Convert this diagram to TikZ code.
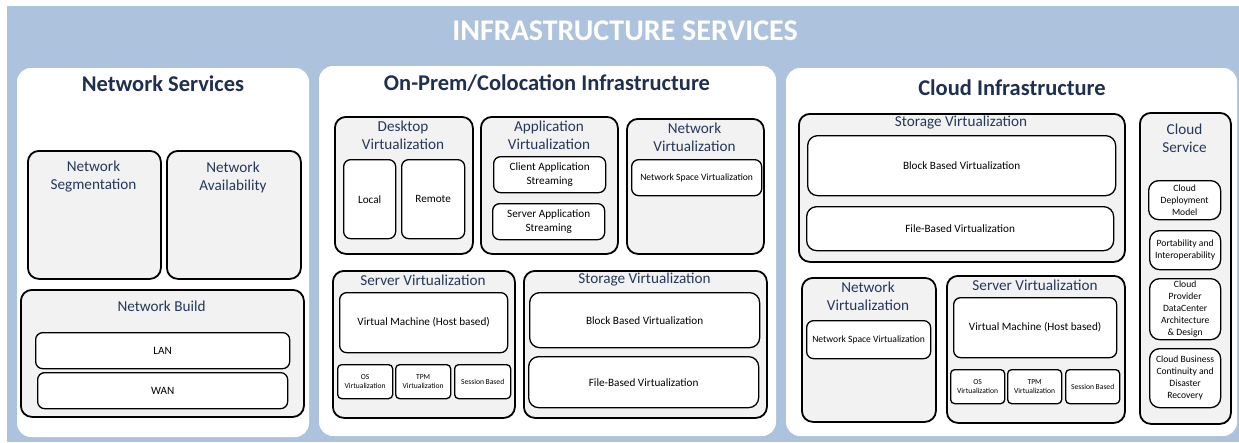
\documentclass[tikz,border=0pt]{standalone}
\usepackage{fontspec}
\setmainfont{Carlito}
\usetikzlibrary{positioning}

\definecolor{bgblue}{HTML}{ADC2DC}
\definecolor{boxgray}{HTML}{F2F2F2}
\definecolor{navy}{HTML}{1F2F4F}
\definecolor{slate}{HTML}{25385A}

\newcommand{\maintitlefont}{\fontsize{30}{34}\selectfont\bfseries}
\newcommand{\paneltitlefont}{\fontsize{22.5}{26}\selectfont\bfseries}
\newcommand{\grouptitlefont}{\fontsize{15.2}{18}\selectfont}
\newcommand{\itemfont}{\fontsize{11.2}{14}\selectfont}
\newcommand{\smallitemfont}{\fontsize{9.6}{12}\selectfont}
\newcommand{\tinyitemfont}{\fontsize{7.6}{9.5}\selectfont}

\tikzset{panel/.style = {fill = white, rounded corners = 14pt}}
\tikzset{paneltitle/.style = {text = navy, font = \paneltitlefont}}
\tikzset{group/.style = {draw, fill = boxgray, line width = 1.8pt, rounded corners = 11pt,
    anchor = north west, inner sep = 0pt}}
\tikzset{grouptitle/.style = {text = slate, font = \grouptitlefont, align = center, inner sep = 0pt}}
\tikzset{item/.style = {draw, fill = white, line width = 1.3pt, rounded corners = 7pt,
    anchor = north west, inner sep = 1pt, align = center, font = \itemfont}}

\begin{document}
\begin{tikzpicture}[x = 1pt, y = -1pt]
				\useasboundingbox (0, 0) rectangle (1239, 442);
				\fill[white] (0, 0) rectangle (1239, 442);
				\fill[bgblue] (7, 6) rectangle (1239, 442);
				\node[text = white, font = \maintitlefont] (title) at (625, 31) {INFRASTRUCTURE SERVICES};

				% network services
				\fill[panel] (17, 68) rectangle (309, 437);
				\node[paneltitle] (nstitle) at (163, 84) {Network Services};
				\node[group, minimum width = 133, minimum height = 128] (seg) at (27, 150) {};
				\node[grouptitle] at (93.5, 177) {Network\\Segmentation};
				\node[group, minimum width = 134, minimum height = 128] (avail) at (166, 150) {};
				\node[grouptitle] at (233, 177) {Network\\Availability};
				\node[group, minimum width = 283, minimum height = 127] (build) at (20, 289) {};
				\node[grouptitle] at (161.5, 306) {Network Build};
				\node[item, minimum width = 254, minimum height = 36] (lan) at (35, 332) {LAN};
				\node[item, minimum width = 250, minimum height = 36] (wan) at (37, 372) {WAN};

				% on-prem / colocation
				\fill[panel] (319, 66) rectangle (776, 436);
				\node[paneltitle] (optitle) at (547, 83) {On-Prem/Colocation Infrastructure};
				\node[group, minimum width = 138, minimum height = 137] (desk) at (334, 116) {};
				\node[grouptitle] at (403, 135) {Desktop\\Virtualization};
				\node[item, minimum width = 52, minimum height = 79] (local) at (343, 159) {Local};
				\node[item, minimum width = 63, minimum height = 79] (remote) at (401, 159) {Remote};
				\node[group, minimum width = 137, minimum height = 137] (app) at (480, 116) {};
				\node[grouptitle] at (549, 135) {Application\\Virtualization};
				\node[item, minimum width = 112, minimum height = 36] (clientapp) at (493, 156) {Client Application\\Streaming};
				\node[item, minimum width = 112, minimum height = 36] (serverapp) at (492, 203) {Server Application\\Streaming};
				\node[group, minimum width = 137, minimum height = 135] (netv) at (626, 118) {};
				\node[grouptitle] at (694.5, 137) {Network\\Virtualization};
				\node[item, minimum width = 130, minimum height = 36, font = \smallitemfont] (nsv) at (631, 159) {Network Space Virtualization};
				\node[group, minimum width = 182, minimum height = 147] (srv) at (332, 270) {};
				\node[grouptitle] at (423, 280) {Server Virtualization};
				\node[item, minimum width = 168, minimum height = 60] (vm) at (339, 292) {Virtual Machine (Host based)};
				\node[item, minimum width = 55, minimum height = 34, font = \tinyitemfont, rounded corners = 4pt] (os) at (337, 364) {OS\\Virtualization};
				\node[item, minimum width = 55, minimum height = 34, font = \tinyitemfont, rounded corners = 4pt] (tpm) at (395, 364) {TPM\\Virtualization};
				\node[item, minimum width = 56, minimum height = 34, font = \tinyitemfont, rounded corners = 4pt] (sess) at (454, 364) {Session Based};
				\node[group, minimum width = 243, minimum height = 147] (stor) at (523, 270) {};
				\node[grouptitle] at (644.5, 280) {Storage Virtualization};
				\node[item, minimum width = 230, minimum height = 55, rounded corners = 10pt] (block) at (529, 292) {Block Based Virtualization};
				\node[item, minimum width = 230, minimum height = 51, rounded corners = 10pt] (file) at (528, 356) {File-Based Virtualization};

				% cloud
				\fill[panel] (786, 68) rectangle (1237, 436);
				\node[paneltitle] (cltitle) at (1012, 88) {Cloud Infrastructure};
				\node[group, minimum width = 326, minimum height = 148] (cstor) at (798, 113) {};
				\node[grouptitle] at (961, 123) {Storage Virtualization};
				\node[item, minimum width = 308, minimum height = 60, rounded corners = 10pt] (cblock) at (807, 135) {Block Based Virtualization};
				\node[item, minimum width = 307, minimum height = 44, rounded corners = 10pt] (cfile) at (806, 206) {File-Based Virtualization};
				\node[group, minimum width = 134, minimum height = 144] (cnetv) at (801, 277) {};
				\node[grouptitle] at (868, 296) {Network\\Virtualization};
				\node[item, minimum width = 124, minimum height = 38, font = \smallitemfont] (cnsv) at (806, 320) {Network Space Virtualization};
				\node[group, minimum width = 178, minimum height = 147] (csrv) at (946, 275) {};
				\node[grouptitle] at (1035, 285) {Server Virtualization};
				\node[item, minimum width = 163, minimum height = 60] (cvm) at (953, 297) {Virtual Machine (Host based)};
				\node[item, minimum width = 54, minimum height = 34, font = \tinyitemfont, rounded corners = 4pt] (cos) at (950, 369) {OS\\Virtualization};
				\node[item, minimum width = 54, minimum height = 34, font = \tinyitemfont, rounded corners = 4pt] (ctpm) at (1007, 369) {TPM\\Virtualization};
				\node[item, minimum width = 54, minimum height = 34, font = \tinyitemfont, rounded corners = 4pt] (csess) at (1065, 369) {Session Based};
				\node[group, minimum width = 91, minimum height = 311] (csvc) at (1139, 112) {};
				\node[grouptitle] at (1184.5, 138) {Cloud\\Service};
				\node[item, minimum width = 72, minimum height = 39, font = \smallitemfont, rounded corners = 10pt] (cdep) at (1148, 180) {Cloud\\Deployment\\Model};
				\node[item, minimum width = 71, minimum height = 39, font = \smallitemfont, rounded corners = 10pt] (cport) at (1149, 230) {Portability and\\Interoperability};
				\node[item, minimum width = 71, minimum height = 61, font = \smallitemfont, rounded corners = 10pt] (cprov) at (1149, 278) {Cloud\\Provider\\DataCenter\\Architecture\\\& Design};
				\node[item, minimum width = 71, minimum height = 59, font = \smallitemfont, rounded corners = 10pt] (cbcdr) at (1149, 348) {Cloud Business\\Continuity and\\Disaster\\Recovery};
			\end{tikzpicture}
\end{document}
